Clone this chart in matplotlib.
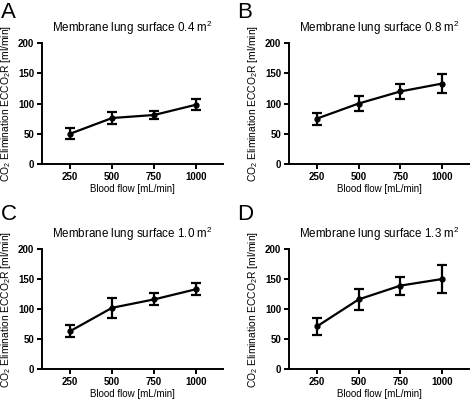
import matplotlib
matplotlib.use("Agg")
import matplotlib.pyplot as plt

plt.rcParams['font.family'] = ['Liberation Sans', 'DejaVu Sans']
plt.rcParams['mathtext.default'] = 'regular'

flow = [250, 500, 750, 1000]
xtick_labels = ['250', '500', '750', '1000']
yticks = [0, 50, 100, 150, 200]

titles = ['Membrane lung surface 0.4 m$^2$', 'Membrane lung surface 0.8 m$^2$',
          'Membrane lung surface 1.0 m$^2$', 'Membrane lung surface 1.3 m$^2$']
letters = ['A', 'B', 'C', 'D']

mean_a = [50, 76, 81, 98]
err_a = [9, 10, 7, 9]
mean_b = [75, 100, 120, 133]
err_b = [10, 12, 13, 16]
mean_c = [63, 102, 116, 133]
err_c = [10, 17, 10, 10]
mean_d = [71, 116, 139, 150]
err_d = [14, 18, 15, 23]

means = [mean_a, mean_b, mean_c, mean_d]
errs = [err_a, err_b, err_c, err_d]

W, H = 472, 401
fig = plt.figure(figsize=(W / 100, H / 100), dpi=100)

# axes boxes in pixels: left, top, right, bottom
boxes = [(42, 43, 223, 164), (289, 43, 469, 164),
         (42, 249, 223, 369), (289, 249, 469, 369)]
letter_pos = [(1, 2), (237, 2), (1, 204), (237, 204)]

for i in range(4):
    l, t, r, b = boxes[i]
    ax = fig.add_axes([l / W, 1 - b / H, (r - l) / W, (b - t) / H])
    ax.errorbar(flow, means[i], yerr=errs[i], color='black', lw=1.6,
                marker='o', ms=3.5, capsize=3.5, capthick=1.6, elinewidth=1.6)
    ax.set_xlim(83, 1160)
    ax.set_ylim(0, 200)
    ax.set_xticks(flow)
    ax.set_xticklabels(xtick_labels, fontweight='bold', fontsize=7)
    ax.set_yticks(yticks)
    ax.set_yticklabels([str(v) for v in yticks], fontweight='bold', fontsize=7)
    for s in ['top', 'right']:
        ax.spines[s].set_visible(False)
    for s in ['left', 'bottom']:
        ax.spines[s].set_linewidth(1.4)
    ax.tick_params(width=1.4, length=3.5, pad=2)
    ax.set_xlabel('Blood flow [mL/min]', fontsize=7, labelpad=2)
    ax.set_ylabel('CO$_2$ Elimination ECCO$_2$R [ml/min]', fontsize=7.4, labelpad=4)
    ax.set_title(titles[i], fontsize=8.4, pad=8)
    lx, ly = letter_pos[i]
    fig.text(lx / W, 1 - ly / H, letters[i], fontsize=16,
             ha='left', va='top')

fig.savefig('out.png', dpi=100)
